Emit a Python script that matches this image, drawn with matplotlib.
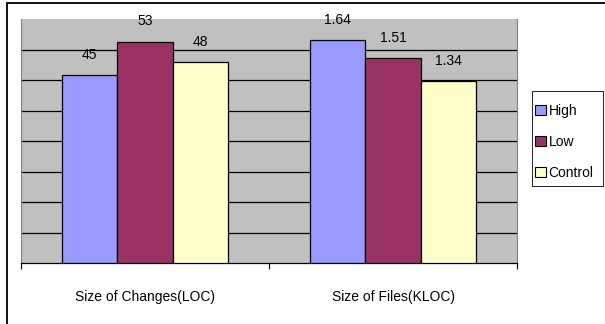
import matplotlib.pyplot as plt
import matplotlib.patches as mpatches
import numpy as np

plt.rcParams['font.family'] = ['Liberation Sans', 'DejaVu Sans']

categories = ['Size of Changes(LOC)', 'Size of Files(KLOC)']
series = ['High', 'Low', 'Control']
loc_values = [45, 53, 48]
kloc_values = [1.64, 1.51, 1.34]
loc_labels = ['45', '53', '48']
kloc_labels = ['1.64', '1.51', '1.34']
colors = ['#9999FF', '#993366', '#FFFFCC']

W, H = 605, 324
fig = plt.figure(figsize=(W / 100, H / 100), dpi=100)

# outer chart border (right and bottom edges fall outside the picture)
fig.patches.append(mpatches.Rectangle((7 / W, -0.05), 1.0, 1.05 - 3.5 / H,
                                      transform=fig.transFigure, fill=False,
                                      edgecolor='black', linewidth=1.3))

left, right, top, bottom = 21, 517, 19, 263
rect = [left / W, 1 - bottom / H, (right - left) / W, (bottom - top) / H]
ax = fig.add_axes(rect)
ax2 = fig.add_axes(rect, frameon=False)

ymax1 = 58.4
ymax2 = 1.795
ax.set_facecolor('#C0C0C0')
ax.set_xlim(-0.5, 1.5)
ax.set_ylim(0, ymax1)
ax2.set_xlim(-0.5, 1.5)
ax2.set_ylim(0, ymax2)
for y in np.linspace(0, ymax1, 9)[1:-1]:
    ax.axhline(y, color='black', linewidth=0.9, zorder=1)

fs = 10
bw = 0.223
offsets = [-bw, 0, bw]
for i in range(3):
    ax.bar(0 + offsets[i], loc_values[i], bw, color=colors[i], edgecolor='black',
           linewidth=0.9, zorder=3)
    ax.annotate(loc_labels[i], (0 + offsets[i], loc_values[i]), xytext=(0, 14.5),
                textcoords='offset points', ha='center', va='center', fontsize=fs,
                annotation_clip=False)
    ax2.bar(1 + offsets[i], kloc_values[i], bw, color=colors[i], edgecolor='black',
            linewidth=0.9, zorder=3)
    ax2.annotate(kloc_labels[i], (1 + offsets[i], kloc_values[i]), xytext=(0, 14.5),
                 textcoords='offset points', ha='center', va='center', fontsize=fs,
                 annotation_clip=False)

for s in ['top', 'left', 'right']:
    ax.spines[s].set_color('#808080')
    ax.spines[s].set_linewidth(0.8)
ax.spines['top'].set_visible(False)
ax.spines['bottom'].set_color('black')
ax.spines['bottom'].set_linewidth(0.9)

ax.set_yticks([])
ax.set_xticks([-0.5, 0.5, 1.5], minor=True)
ax.set_xticks([0, 1])
ax.set_xticklabels(categories, fontsize=fs)
ax.tick_params(axis='x', which='major', length=0, pad=19.5)
ax.tick_params(axis='x', which='minor', length=4, width=0.8, color='black')
ax2.set_xticks([])
ax2.set_yticks([])

# legend box drawn separately so the padding can differ top/side
fig.patches.append(mpatches.Rectangle((532 / W, 1 - 186 / H), 71 / W, 95 / H,
                                      transform=fig.transFigure, facecolor='white',
                                      edgecolor='black', linewidth=0.6))
handles = [mpatches.Patch(facecolor=c, edgecolor='black', linewidth=0.8) for c in colors]
leg = fig.legend(handles, series, loc='upper left',
                 bbox_to_anchor=(529 / W, 1 - 98 / H), fontsize=fs,
                 frameon=False,
                 handlelength=0.75, handleheight=0.75, handletextpad=0.2,
                 labelspacing=1.2, borderpad=0.45, borderaxespad=0)

fig.savefig('out.png', dpi=100)
